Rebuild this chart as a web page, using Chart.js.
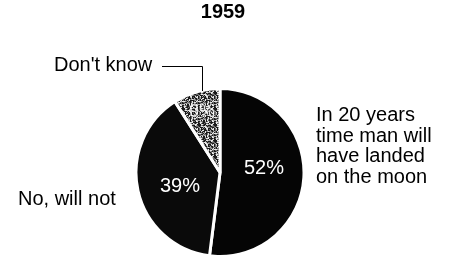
<!DOCTYPE html>
<html>
<head>
<meta charset="utf-8">
<script src="https://cdn.jsdelivr.net/npm/chart.js@4.4.1/dist/chart.umd.min.js"></script>
<style>
  html, body { margin: 0; padding: 0; background: #fff; }
  #wrap { width: 454px; height: 256px; position: relative; }
</style>
</head>
<body>
<div id="wrap"><canvas id="myChart" width="454" height="256"></canvas></div>
<script>
const chartTitle = "1959";
const answers = ["In 20 years time man will have landed on the moon", "No, will not", "Don't know"];
const shares = [52, 39, 9];
const shareLabels = ["52%", "39%", "9%"];

// speckled grey fill for the "don't know" slice (fixed hash, just a texture)
function makeGrain() {
  var c = document.createElement("canvas");
  c.width = 16; c.height = 16;
  var g = c.getContext("2d");
  for (var y = 0; y < 16; y++) {
    for (var x = 0; x < 16; x++) {
      var h = ((x * 73856093) ^ (y * 19349663)) >>> 0;
      h = (h ^ (h >>> 13)) * 1274126177 >>> 0;
      var v = h % 100;
      g.fillStyle = v < 38 ? "#1a1a1a" : (v < 62 ? "#6a6a6a" : (v < 80 ? "#a8a8a8" : "#e8e8e8"));
      g.fillRect(x, y, 1, 1);
    }
  }
  return g.createPattern(c, "repeat");
}

const annotate = {
  id: "annotate",
  afterDraw(chart) {
    const ctx = chart.ctx;
    ctx.save();

    // title
    ctx.fillStyle = "#000";
    ctx.font = "bold 20px 'Liberation Sans', Arial, sans-serif";
    ctx.textAlign = "center";
    ctx.textBaseline = "alphabetic";
    ctx.fillText(chartTitle, 223, 18);

    // values inside the slices
    ctx.font = "20px 'Liberation Sans', Arial, sans-serif";
    ctx.fillStyle = "#fff";
    const pos = [[264, 174], [180, 192], [202, 117]];
    shareLabels.forEach(function (t, i) {
      if (i === 2) {
        ctx.font = "18px 'Liberation Sans', Arial, sans-serif";
        ctx.fillStyle = "rgba(255,255,255,0.85)";
      }
      ctx.fillText(t, pos[i][0], pos[i][1]);
    });

    // outside labels
    ctx.fillStyle = "#000";
    ctx.font = "20px 'Liberation Sans', Arial, sans-serif";
    ctx.textAlign = "left";
    const lines = ["In 20 years", "time man will", "have landed", "on the moon"];
    lines.forEach(function (l, i) {
      ctx.fillText(l, 316, 121 + i * 20.5);
    });
    ctx.fillText("No, will not", 18, 205);
    ctx.fillText("Don't know", 54, 71);

    // leader line to the small slice
    ctx.strokeStyle = "#000";
    ctx.lineWidth = 1;
    ctx.beginPath();
    ctx.moveTo(162, 66.5);
    ctx.lineTo(202.5, 66.5);
    ctx.lineTo(202.5, 91);
    ctx.stroke();
    ctx.restore();
  }
};

new Chart(document.getElementById("myChart"), {
  type: "pie",
  data: {
    labels: answers,
    datasets: [{
      data: shares,
      backgroundColor: ["#050505", "#0a0a0a", makeGrain()],
      borderColor: "#fff",
      borderWidth: 3
    }]
  },
  options: {
    responsive: false,
    animation: false,
    radius: 84,
    layout: { padding: { top: 89, bottom: 0, left: 136, right: 150 } },
    plugins: {
      legend: { display: false },
      tooltip: { enabled: false }
    }
  },
  plugins: [annotate]
});
</script>
</body>
</html>
